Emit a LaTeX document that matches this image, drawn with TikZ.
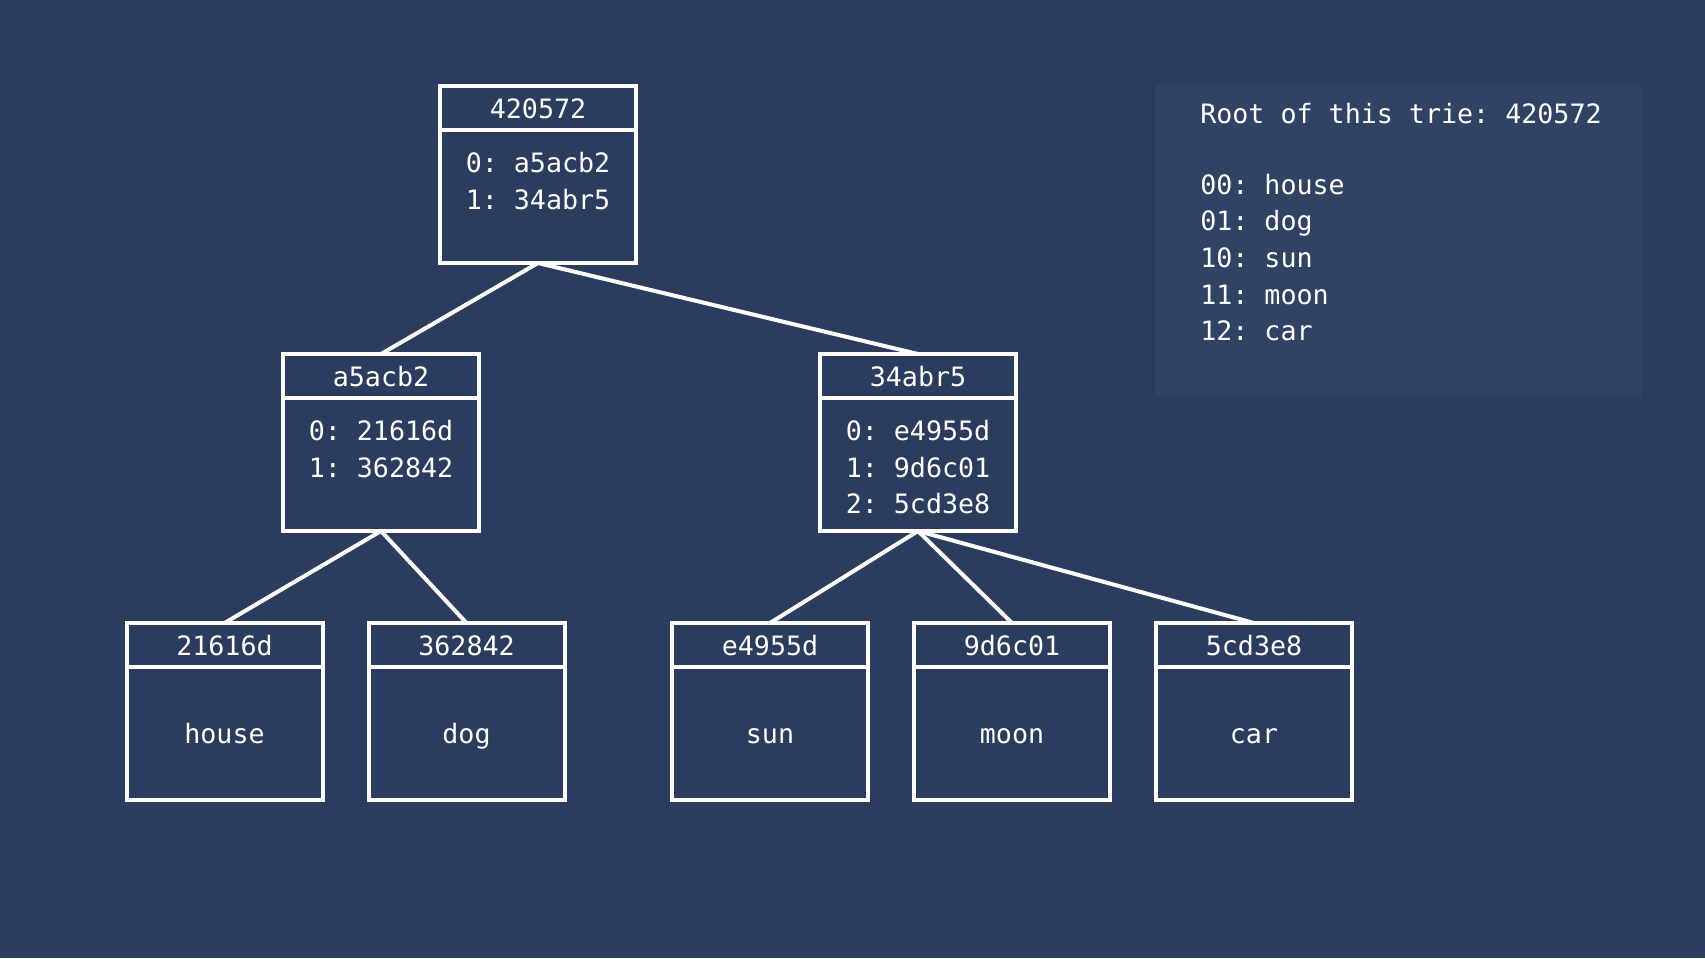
\documentclass[tikz,border=0pt]{standalone}
\usepackage{fontspec}
\setmonofont{DejaVu Sans Mono}
\definecolor{bg}{HTML}{2B3D5F}
\definecolor{panel}{HTML}{2F4365}
\begin{document}
\begin{tikzpicture}[x=0.75pt,y=-0.75pt,
  txt/.style={font=\ttfamily\fontsize{20}{24}\selectfont, text=white, inner sep=0pt, text height=15.2pt, text depth=0pt},
  hdr/.style={txt, draw=white, line width=3pt, minimum width=147pt, minimum height=33pt, outer sep=0pt},
  bodybox/.style={txt, draw=white, line width=3pt, minimum width=147pt, minimum height=99.75pt, outer sep=0pt, anchor=north},
  edge/.style={draw=white, line width=3pt}]
\fill[bg] (0,0) rectangle (1705,958);
\useasboundingbox (0,0) rectangle (1705,958);
% legend panel
\fill[panel] (1155,85) rectangle (1642,397);
\node[txt, anchor=west] (lg0) at (1200,113) {Root of this trie: 420572};
\node[txt, anchor=west] (lg1) at (1200,184) {00: house};
\node[txt, anchor=west] (lg2) at (1200,220.7) {01: dog};
\node[txt, anchor=west] (lg3) at (1200,257.3) {10: sun};
\node[txt, anchor=west] (lg4) at (1200,294) {11: moon};
\node[txt, anchor=west] (lg5) at (1200,330.7) {12: car};
% root
\node[hdr] (h0) at (538,108) {420572};
\node[bodybox] (b0) at (h0.south) {};
\node[txt] (t0a) at (538,162.5) {0: a5acb2};
\node[txt] (t0b) at (538,199) {1: 34abr5};
% level 2
\node[hdr] (h1) at (381,376) {a5acb2};
\node[bodybox] (b1) at (h1.south) {};
\node[txt] (t1a) at (381,430.5) {0: 21616d};
\node[txt] (t1b) at (381,467) {1: 362842};
\node[hdr] (h2) at (918,376) {34abr5};
\node[bodybox] (b2) at (h2.south) {};
\node[txt] (t2a) at (918,430.5) {0: e4955d};
\node[txt] (t2b) at (918,467) {1: 9d6c01};
\node[txt] (t2c) at (918,503.5) {2: 5cd3e8};
% leaves
\node[hdr] (h3) at (224.5,645) {21616d};
\node[bodybox] (b3) at (h3.south) {house};
\node[hdr] (h4) at (466.5,645) {362842};
\node[bodybox] (b4) at (h4.south) {dog};
\node[hdr] (h5) at (770,645) {e4955d};
\node[bodybox] (b5) at (h5.south) {sun};
\node[hdr] (h6) at (1012,645) {9d6c01};
\node[bodybox] (b6) at (h6.south) {moon};
\node[hdr] (h7) at (1254,645) {5cd3e8};
\node[bodybox] (b7) at (h7.south) {car};
% connectors
\draw[edge] (b0.south) -- (h1.north);
\draw[edge] (b0.south) -- (h2.north);
\draw[edge] (b1.south) -- (h3.north);
\draw[edge] (b1.south) -- (h4.north);
\draw[edge] (b2.south) -- (h5.north);
\draw[edge] (b2.south) -- (h6.north);
\draw[edge] (b2.south) -- (h7.north);
\end{tikzpicture}
\end{document}
